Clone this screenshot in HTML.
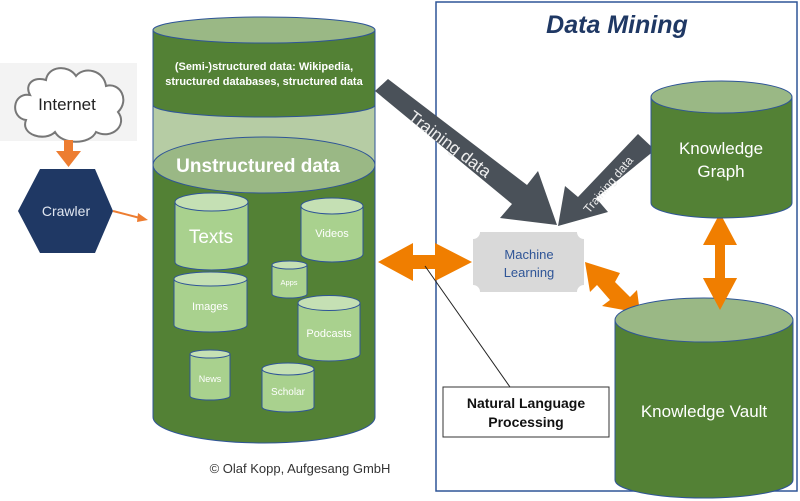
<!DOCTYPE html>
<html><head><meta charset="utf-8"><style>
html,body{margin:0;padding:0;background:#fff;}
svg{display:block;font-family:"Liberation Sans",sans-serif;}
.c{font-family:"Liberation Sans",sans-serif;}
</style></head><body>
<svg width="800" height="501" viewBox="0 0 800 501">
<!-- Data mining box -->
<rect x="436" y="2" width="361" height="489" fill="none" stroke="#2f5597" stroke-width="1.5"/>
<text x="617" y="33" font-size="25" font-weight="bold" font-style="italic" fill="#1f3864" text-anchor="middle">Data Mining</text>

<!-- Internet cloud -->
<rect x="0" y="63" width="137" height="78" fill="#f3f3f3"/>
<path d="M30,95 C12,92 10,118 26,120 C20,135 45,142 55,132 C62,145 90,145 96,132 C112,140 128,125 118,112 C130,100 120,82 106,86 C104,70 84,66 76,76 C68,64 48,66 46,80 C34,76 24,84 30,95 Z" fill="#fff" stroke="#777" stroke-width="2"/>
<text x="67" y="110" font-size="17" fill="#222" text-anchor="middle">Internet</text>
<rect x="64" y="140" width="9" height="12" fill="#ed7d31"/>
<polygon points="56,151 81,151 68.5,167" fill="#ed7d31"/>
<!-- Crawler hexagon -->
<polygon points="40,169 95,169 113,211 95,253 40,253 18,211" fill="#1f3864"/>
<text x="66" y="216" font-size="14" fill="#e0e6f0" text-anchor="middle" class="c">Crawler</text>
<line x1="113" y1="211" x2="140" y2="218" stroke="#ed7d31" stroke-width="2"/>
<polygon points="138,213 148,220 137,222" fill="#ed7d31"/>

<!-- Main cylinder -->
<path d="M153,30 L153,417 A111,26 0 0 0 375,417 L375,30 Z" fill="#538135" stroke="#2f5597" stroke-width="1"/>
<path d="M153,105 L153,165 L375,165 L375,105 A111,12 0 0 1 153,105 Z" fill="#b6cca4" stroke="#2f5597" stroke-width="1"/>
<ellipse cx="264" cy="30" rx="111" ry="13" fill="#9ab885" stroke="#2f5597" stroke-width="1"/>
<ellipse cx="264" cy="165" rx="111" ry="28" fill="#9ab885" stroke="#2f5597" stroke-width="1"/>
<text x="264" y="70" font-size="11" font-weight="bold" fill="#fff" text-anchor="middle" class="c">(Semi-)structured data: Wikipedia,</text>
<text x="264" y="85" font-size="11" font-weight="bold" fill="#fff" text-anchor="middle" class="c">structured databases, structured data</text>
<text x="258" y="172" font-size="19" font-weight="bold" fill="#fff" text-anchor="middle" class="c">Unstructured data</text>

<!-- small cylinders -->
<g stroke="#2f5597" stroke-width="1" fill="#a9d18e">
<path d="M175,202 L175,262 A36.5,8 0 0 0 248,262 L248,202 Z"/><ellipse cx="211.5" cy="202" rx="36.5" ry="9" fill="#c5e0b4"/>
<path d="M301,206 L301,254 A31,8 0 0 0 363,254 L363,206 Z"/><ellipse cx="332" cy="206" rx="31" ry="8" fill="#c5e0b4"/>
<path d="M272,265 L272,294 A17.5,4 0 0 0 307,294 L307,265 Z"/><ellipse cx="289.5" cy="265" rx="17.5" ry="4" fill="#c5e0b4"/>
<path d="M174,279 L174,325 A36.5,7 0 0 0 247,325 L247,279 Z"/><ellipse cx="210.5" cy="279" rx="36.5" ry="7" fill="#c5e0b4"/>
<path d="M298,303 L298,354 A31,7 0 0 0 360,354 L360,303 Z"/><ellipse cx="329" cy="303" rx="31" ry="7.5" fill="#c5e0b4"/>
<path d="M190,354 L190,396 A20,4 0 0 0 230,396 L230,354 Z"/><ellipse cx="210" cy="354" rx="20" ry="4" fill="#c5e0b4"/>
<path d="M262,369 L262,407 A26,5 0 0 0 314,407 L314,369 Z"/><ellipse cx="288" cy="369" rx="26" ry="6" fill="#c5e0b4"/>
</g>
<g fill="#fff" text-anchor="middle" class="c">
<text x="211" y="243" font-size="19">Texts</text>
<text x="332" y="237" font-size="11">Videos</text>
<text x="289" y="285" font-size="7.5">Apps</text>
<text x="210" y="310" font-size="11">Images</text>
<text x="329" y="337" font-size="11">Podcasts</text>
<text x="210" y="382" font-size="9">News</text>
<text x="288" y="395" font-size="10">Scholar</text>
</g>
<text x="300" y="473" font-size="13" fill="#333" text-anchor="middle">© Olaf Kopp, Aufgesang GmbH</text>

<!-- Training data arrows -->
<polygon points="375,91 388,79 527,185 538,171 557,225 500,218 512,204" fill="#4a5159"/>
<text transform="translate(407,119) rotate(37)" font-size="17" fill="#eee" class="c">Training data</text>
<polygon points="638,134 655,150 596,198 608,212 558,226 565,186 578,197" fill="#4a5159"/>
<text transform="translate(589,214) rotate(-50)" font-size="12" fill="#eee" class="c">Training data</text>

<!-- Machine Learning -->
<path d="M480,232 L577,232 A7,7 0 0 0 584,239 L584,285 A7,7 0 0 0 577,292 L480,292 A7,7 0 0 0 473,285 L473,239 A7,7 0 0 0 480,232 Z" fill="#d9d9d9"/>
<text x="529" y="259" font-size="13" fill="#2f5597" text-anchor="middle" class="c">Machine</text>
<text x="529" y="277" font-size="13" fill="#2f5597" text-anchor="middle" class="c">Learning</text>

<!-- orange arrows -->
<polygon points="378,262 413,243 413,255 435,255 435,243 472,262 435,281 435,269 413,269 413,281" fill="#f07e00"/>
<polygon points="585,262 620,273 615,282 630,297 637,290 640,313 602,306 610,300 597,285 590,292" fill="#f07e00"/>
<polygon points="720,213 737,245 725,245 725,278 737,278 720,310 703,278 715,278 715,245 703,245" fill="#f07e00"/>

<!-- NLP line & box -->
<line x1="425" y1="266" x2="510" y2="387" stroke="#222" stroke-width="1"/>
<rect x="443" y="387" width="166" height="50" fill="#fff" stroke="#333" stroke-width="1"/>
<text x="526" y="408" font-size="14" font-weight="bold" fill="#111" text-anchor="middle" class="c">Natural Language</text>
<text x="526" y="427" font-size="14" font-weight="bold" fill="#111" text-anchor="middle" class="c">Processing</text>

<!-- Knowledge Graph -->
<path d="M651,97 L651,203 A70.5,15 0 0 0 792,203 L792,97 Z" fill="#538135" stroke="#2f5597" stroke-width="1"/>
<ellipse cx="721.5" cy="97" rx="70.5" ry="16" fill="#9ab885" stroke="#2f5597" stroke-width="1"/>
<text x="721" y="154" font-size="17" fill="#fff" text-anchor="middle" class="c">Knowledge</text>
<text x="721" y="177" font-size="17" fill="#fff" text-anchor="middle" class="c">Graph</text>

<!-- Knowledge Vault -->
<path d="M615,320 L615,480 A89,18 0 0 0 793,480 L793,320 Z" fill="#538135" stroke="#2f5597" stroke-width="1"/>
<ellipse cx="704" cy="320" rx="89" ry="22" fill="#9ab885" stroke="#2f5597" stroke-width="1"/>
<polygon points="703,278 737,278 720,310" fill="#f07e00"/>
<text x="704" y="417" font-size="17" fill="#fff" text-anchor="middle" class="c">Knowledge Vault</text>
</svg>
</body></html>
